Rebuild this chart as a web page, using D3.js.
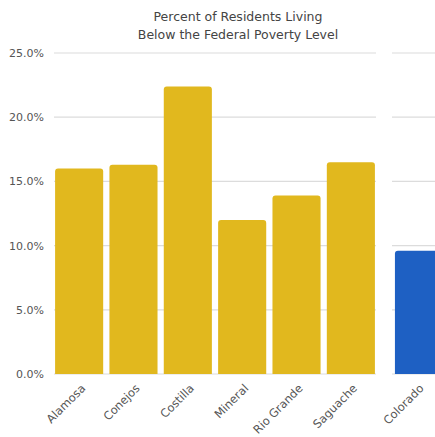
<!DOCTYPE html>
<html>
<head>
<meta charset="utf-8">
<script src="https://cdn.jsdelivr.net/npm/d3@7"></script>
<style>
  html, body { margin: 0; padding: 0; background: #fff; }
  svg { display: block; font-family: "DejaVu Sans", "Noto Sans", sans-serif; }
</style>
</head>
<body>
<svg id="chart" width="435" height="437"></svg>
<script>
// Share of residents below the federal poverty level (percent)
const counties = ["Alamosa", "Conejos", "Costilla", "Mineral", "Rio Grande", "Saguache"];
const countyValues = [16.0, 16.3, 22.4, 12.0, 13.9, 16.5];
const state = ["Colorado"];
const stateValues = [9.6];
const yTicks = [0, 5, 10, 15, 20, 25];
const titleLines = ["Percent of Residents Living", "Below the Federal Poverty Level"];

const svg = d3.select("#chart");
const yellow = "#E1B81E";
const blue = "#1E60C3";
const textColor = "#555";
const gridColor = "#dcdcdc";
const font = "'DejaVu Sans', sans-serif";

const y = d3.scaleLinear().domain([0, 25]).range([374, 53]);

// Title
svg.append("g").selectAll("text")
  .data(titleLines)
  .join("text")
  .attr("x", 238)
  .attr("y", (d, i) => 21 + i * 18)
  .attr("text-anchor", "middle")
  .attr("font-size", 12.5)
  .attr("fill", "#444")
  .style("font-family", font)
  .text(d => d);

// Y axis labels
const yAxis = svg.append("g")
  .attr("transform", "translate(45,0)")
  .call(d3.axisLeft(y).tickValues(yTicks).tickSize(0).tickPadding(1)
    .tickFormat(d => d3.format(".1f")(d) + "%"));
yAxis.select(".domain").remove();
yAxis.selectAll("text").attr("font-size", 11).attr("fill", textColor)
  .style("font-family", font);

function panel(cats, vals, x0, x1, color) {
  const x = d3.scaleBand().domain(cats).range([x0, x1]).paddingInner(0.115).paddingOuter(0.02);
  const g = svg.append("g");
  // gridlines
  g.selectAll("line.grid")
    .data(yTicks)
    .join("line")
    .attr("class", "grid")
    .attr("x1", x0).attr("x2", x1)
    .attr("y1", d => y(d)).attr("y2", d => y(d))
    .attr("stroke", gridColor).attr("stroke-width", 1.2);
  // bars with rounded top corners
  const r = 3;
  g.selectAll("path.bar")
    .data(cats.map((c, i) => ({ c, v: vals[i] })))
    .join("path")
    .attr("class", "bar")
    .attr("fill", color)
    .attr("d", d => {
      const bx = x(d.c), bw = x.bandwidth(), top = y(d.v), bottom = y(0);
      return `M${bx},${bottom}V${top + r}Q${bx},${top} ${bx + r},${top}` +
             `H${bx + bw - r}Q${bx + bw},${top} ${bx + bw},${top + r}V${bottom}Z`;
    });
  // category labels
  const xAxis = g.append("g")
    .attr("transform", `translate(0,${y(0)})`)
    .call(d3.axisBottom(x).tickSize(0).tickPadding(0));
  xAxis.select(".domain").remove();
  xAxis.selectAll("text")
    .attr("font-size", 11.5)
    .attr("fill", textColor)
    .attr("text-anchor", "end")
    .attr("dy", 0)
    .attr("transform", "translate(7,15) rotate(-45)")
    .style("font-family", font);
  return x;
}

panel(counties, countyValues, 54, 376, yellow);
panel(state, stateValues, 392, 443, blue);
</script>
</body>
</html>
